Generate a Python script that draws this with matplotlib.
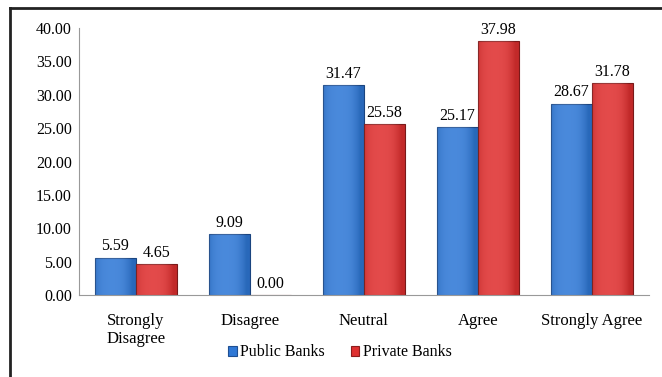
import matplotlib.pyplot as plt
import numpy as np
from matplotlib.lines import Line2D

categories = ["Strongly\nDisagree", "Disagree", "Neutral", "Agree", "Strongly Agree"]
public = [5.59, 9.09, 31.47, 25.17, 28.67]
private = [4.65, 0.00, 25.58, 37.98, 31.78]
yticks = [0, 5, 10, 15, 20, 25, 30, 35, 40]

plt.rcParams["font.family"] = ["Liberation Serif", "DejaVu Serif"]
plt.rcParams["text.color"] = "black"

fig = plt.figure(figsize=(6.62, 3.77), dpi=100)
ax = fig.add_axes([0.119, 0.2175, 0.861, 0.7082])

x = np.arange(len(categories))
w = 0.36
b1 = ax.bar(x - w / 2, public, w, color="#2f78d6", edgecolor="#1f4f92", linewidth=0.8, label="Public Banks")
b2 = ax.bar(x + w / 2, private, w, color="#df3030", edgecolor="#8c1d1d", linewidth=0.8, label="Private Banks")

# soft horizontal shading to mimic the rounded bars
grad = np.linspace(0, 1, 64)
grad = 1 - (np.abs(grad - 0.4) * 2) ** 2
grad = grad[None, :]
for bars in (b1, b2):
    for bar in bars:
        if bar.get_height() <= 0:
            continue
        xb, yb = bar.get_x(), bar.get_y()
        im = ax.imshow(grad, extent=(xb, xb + bar.get_width(), yb, yb + bar.get_height()),
                       aspect="auto", cmap="Greys_r", alpha=0.13, vmin=0, vmax=1, zorder=2.5)
        im.set_clip_path(bar)

for bars, vals in ((b1, public), (b2, private)):
    for bar, v in zip(bars, vals):
        ax.text(bar.get_x() + bar.get_width() / 2, v + 0.5, f"{v:.2f}",
                ha="center", va="bottom", fontsize=11.5, color="black")

ax.set_xlim(-0.5, len(categories) - 0.5)
ax.set_ylim(0, 40)
ax.set_yticks(yticks)
ax.set_yticklabels([f"{t:.2f}" for t in yticks], fontsize=11.5)
ax.set_xticks(x)
ax.set_xticklabels(categories, fontsize=12, linespacing=1.2)
ax.tick_params(axis="x", length=0, pad=13, colors="black")
ax.tick_params(axis="y", length=0, pad=5, colors="black")
for s in ("top", "right"):
    ax.spines[s].set_visible(False)
for s in ("left", "bottom"):
    ax.spines[s].set_color("#999999")
    ax.spines[s].set_linewidth(0.8)

ax.legend(loc="center", bbox_to_anchor=(0.458, -0.215), ncol=2, frameon=False,
          prop={"size": 11.5},
          handlelength=0.55, handleheight=0.55, handletextpad=0.2, columnspacing=1.6)

# outer frame: left and top edges only, as in the cropped original
fx, fy = 10 / 662, 1 - 8 / 377
fig.add_artist(Line2D([fx, fx], [0, fy], transform=fig.transFigure, color="#222222", linewidth=2.0))
fig.add_artist(Line2D([fx, 1], [fy, fy], transform=fig.transFigure, color="#222222", linewidth=2.0))

fig.savefig("out.png", dpi=100)
